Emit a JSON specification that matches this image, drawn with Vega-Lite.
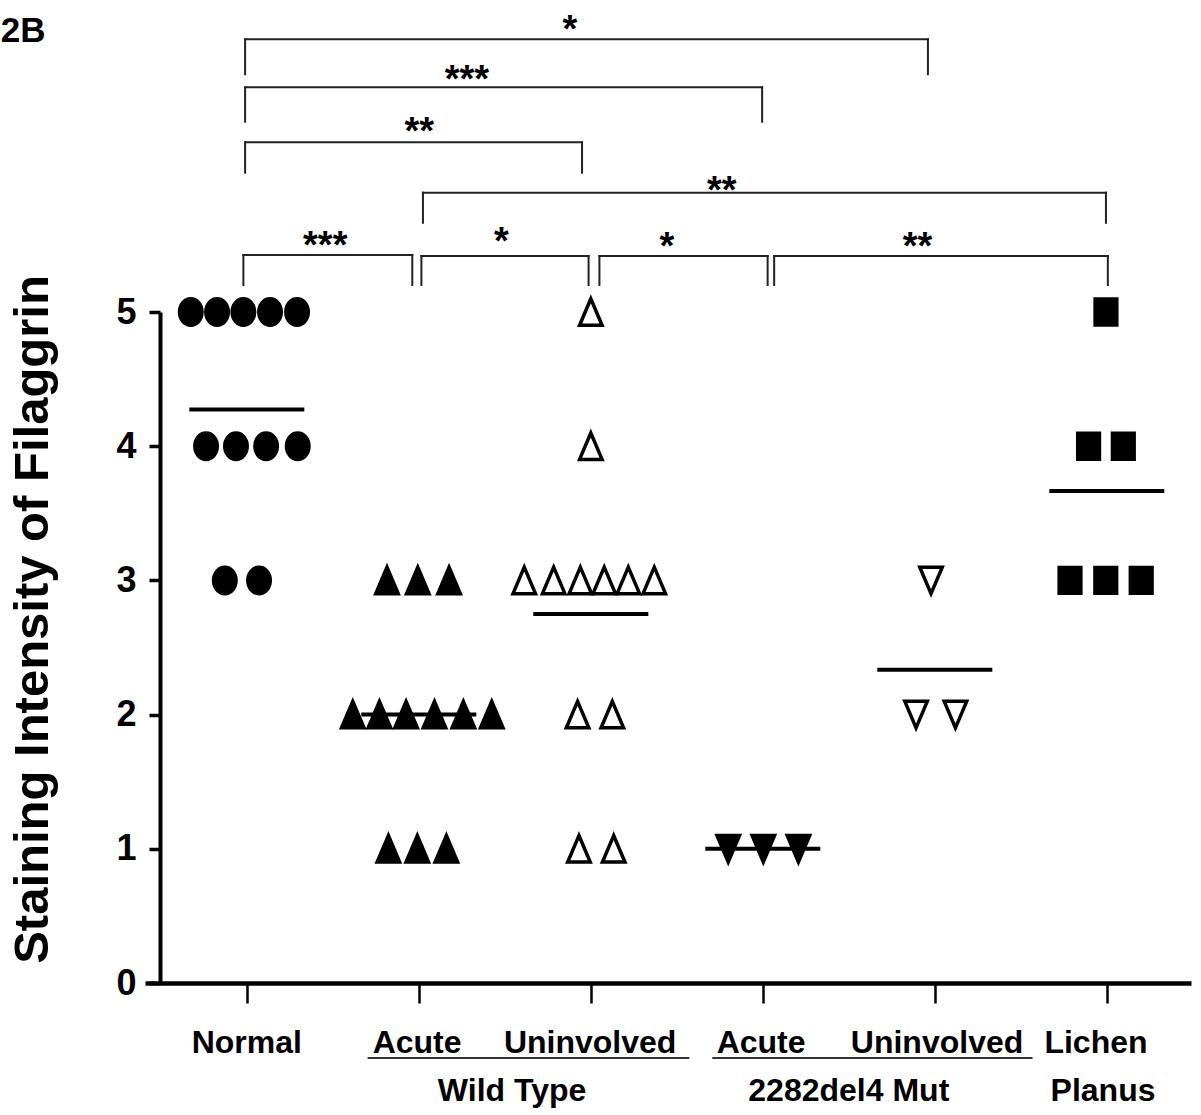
{
  "$schema": "https://vega.github.io/schema/vega-lite/v6.json",
  "width": 1046,
  "height": 671,
  "autosize": {"type": "none"},
  "padding": {"left": 145, "top": 312, "right": 10, "bottom": 132},
  "background": "white",
  "config": {"view": {"stroke": null}, "font": "Liberation Sans", "axis": {"grid": false}},
  "datasets": {
    "points": [
      {"grp": "Normal", "col": 1, "score": 5, "xpos": 0.674},
      {"grp": "Normal", "col": 1, "score": 5, "xpos": 0.827},
      {"grp": "Normal", "col": 1, "score": 5, "xpos": 0.98},
      {"grp": "Normal", "col": 1, "score": 5, "xpos": 1.135},
      {"grp": "Normal", "col": 1, "score": 5, "xpos": 1.292},
      {"grp": "Normal", "col": 1, "score": 4, "xpos": 0.763},
      {"grp": "Normal", "col": 1, "score": 4, "xpos": 0.937},
      {"grp": "Normal", "col": 1, "score": 4, "xpos": 1.112},
      {"grp": "Normal", "col": 1, "score": 4, "xpos": 1.296},
      {"grp": "Normal", "col": 1, "score": 3, "xpos": 0.872},
      {"grp": "Normal", "col": 1, "score": 3, "xpos": 1.071},
      {"grp": "WT Acute", "col": 2, "score": 3, "xpos": 1.815},
      {"grp": "WT Acute", "col": 2, "score": 3, "xpos": 1.994},
      {"grp": "WT Acute", "col": 2, "score": 3, "xpos": 2.176},
      {"grp": "WT Acute", "col": 2, "score": 2, "xpos": 1.616},
      {"grp": "WT Acute", "col": 2, "score": 2, "xpos": 1.771},
      {"grp": "WT Acute", "col": 2, "score": 2, "xpos": 1.926},
      {"grp": "WT Acute", "col": 2, "score": 2, "xpos": 2.091},
      {"grp": "WT Acute", "col": 2, "score": 2, "xpos": 2.259},
      {"grp": "WT Acute", "col": 2, "score": 2, "xpos": 2.424},
      {"grp": "WT Acute", "col": 2, "score": 1, "xpos": 1.823},
      {"grp": "WT Acute", "col": 2, "score": 1, "xpos": 1.991},
      {"grp": "WT Acute", "col": 2, "score": 1, "xpos": 2.16},
      {"grp": "WT Uninvolved", "col": 3, "score": 5, "xpos": 3.0},
      {"grp": "WT Uninvolved", "col": 3, "score": 4, "xpos": 3.0},
      {"grp": "WT Uninvolved", "col": 3, "score": 3, "xpos": 2.613},
      {"grp": "WT Uninvolved", "col": 3, "score": 3, "xpos": 2.784},
      {"grp": "WT Uninvolved", "col": 3, "score": 3, "xpos": 2.939},
      {"grp": "WT Uninvolved", "col": 3, "score": 3, "xpos": 3.078},
      {"grp": "WT Uninvolved", "col": 3, "score": 3, "xpos": 3.218},
      {"grp": "WT Uninvolved", "col": 3, "score": 3, "xpos": 3.369},
      {"grp": "WT Uninvolved", "col": 3, "score": 2, "xpos": 2.923},
      {"grp": "WT Uninvolved", "col": 3, "score": 2, "xpos": 3.125},
      {"grp": "WT Uninvolved", "col": 3, "score": 1, "xpos": 2.931},
      {"grp": "WT Uninvolved", "col": 3, "score": 1, "xpos": 3.133},
      {"grp": "Mut Acute", "col": 4, "score": 1, "xpos": 3.799},
      {"grp": "Mut Acute", "col": 4, "score": 1, "xpos": 4.003},
      {"grp": "Mut Acute", "col": 4, "score": 1, "xpos": 4.207},
      {"grp": "Mut Uninvolved", "col": 5, "score": 3, "xpos": 4.978},
      {"grp": "Mut Uninvolved", "col": 5, "score": 2, "xpos": 4.891},
      {"grp": "Mut Uninvolved", "col": 5, "score": 2, "xpos": 5.12},
      {"grp": "Lichen Planus", "col": 6, "score": 5, "xpos": 5.995},
      {"grp": "Lichen Planus", "col": 6, "score": 4, "xpos": 5.894},
      {"grp": "Lichen Planus", "col": 6, "score": 4, "xpos": 6.096},
      {"grp": "Lichen Planus", "col": 6, "score": 3, "xpos": 5.786},
      {"grp": "Lichen Planus", "col": 6, "score": 3, "xpos": 5.994},
      {"grp": "Lichen Planus", "col": 6, "score": 3, "xpos": 6.2}
    ],
    "brackets": [
      {"x1": 0.99, "x2": 4.96, "ytop": 7.032, "ybot": 6.772},
      {"x1": 0.99, "x2": 3.996, "ytop": 6.674, "ybot": 6.418},
      {"x1": 0.99, "x2": 2.949, "ytop": 6.264, "ybot": 6.038},
      {"x1": 2.024, "x2": 5.995, "ytop": 5.889, "ybot": 5.665},
      {"x1": 0.98, "x2": 1.962, "ytop": 5.425, "ybot": 5.201},
      {"x1": 2.015, "x2": 2.987, "ytop": 5.417, "ybot": 5.201},
      {"x1": 3.05, "x2": 4.028, "ytop": 5.417, "ybot": 5.201},
      {"x1": 4.066, "x2": 6.006, "ytop": 5.417, "ybot": 5.201}
    ],
    "stars": [
      {"t": "*", "x": 2.879, "y": 7.012},
      {"t": "***", "x": 2.28, "y": 6.639},
      {"t": "**", "x": 2.002, "y": 6.252},
      {"t": "**", "x": 3.761, "y": 5.812},
      {"t": "***", "x": 1.456, "y": 5.402},
      {"t": "*", "x": 2.48, "y": 5.432},
      {"t": "*", "x": 3.443, "y": 5.395},
      {"t": "**", "x": 4.9, "y": 5.395}
    ],
    "labels": [
      {"t": "Normal", "x": 1.0, "y": -0.522},
      {"t": "Acute", "x": 1.99, "y": -0.522},
      {"t": "Uninvolved", "x": 2.996, "y": -0.522},
      {"t": "Acute", "x": 3.99, "y": -0.522},
      {"t": "Uninvolved", "x": 5.013, "y": -0.522},
      {"t": "Lichen", "x": 5.937, "y": -0.522},
      {"t": "Wild Type", "x": 2.542, "y": -0.879},
      {"t": "2282del4 Mut", "x": 4.5, "y": -0.879},
      {"t": "Planus", "x": 5.978, "y": -0.879}
    ],
    "underlines": [
      {"x1": 1.702, "x2": 3.573, "y": -0.559},
      {"x1": 3.706, "x2": 5.568, "y": -0.559}
    ],
    "panel": [
      {"t": "2B", "x": -0.43, "y": 7.012}
    ]
  },
  "layer": [
    {
      "data": {"name": "brackets"},
      "mark": {"type": "rule", "strokeWidth": 2, "color": "#222", "strokeCap": "square"},
      "encoding": {
        "x": {"field": "x1", "type": "quantitative", "scale": {"domain": [0.408, 6.4895], "nice": false, "zero": false}},
        "x2": {"field": "x2"},
        "y": {"field": "ytop", "type": "quantitative", "scale": {"domain": [0, 5], "nice": false, "zero": false}}
      }
    },
    {
      "data": {"name": "brackets"},
      "mark": {"type": "rule", "strokeWidth": 2, "color": "#222", "strokeCap": "square"},
      "encoding": {
        "x": {"field": "x1", "type": "quantitative", "scale": {"domain": [0.408, 6.4895], "nice": false, "zero": false}},
        "y": {"field": "ytop", "type": "quantitative", "scale": {"domain": [0, 5], "nice": false, "zero": false}},
        "y2": {"field": "ybot"}
      }
    },
    {
      "data": {"name": "brackets"},
      "mark": {"type": "rule", "strokeWidth": 2, "color": "#222", "strokeCap": "square"},
      "encoding": {
        "x": {"field": "x2", "type": "quantitative", "scale": {"domain": [0.408, 6.4895], "nice": false, "zero": false}},
        "y": {"field": "ytop", "type": "quantitative", "scale": {"domain": [0, 5], "nice": false, "zero": false}},
        "y2": {"field": "ybot"}
      }
    },
    {
      "data": {"name": "stars"},
      "mark": {"type": "text", "fontSize": 38, "fontWeight": "bold", "align": "center", "baseline": "alphabetic", "color": "black", "font": "Liberation Sans"},
      "encoding": {
        "text": {"field": "t"},
        "x": {"field": "x", "type": "quantitative", "scale": {"domain": [0.408, 6.4895], "nice": false, "zero": false}},
        "y": {"field": "y", "type": "quantitative", "scale": {"domain": [0, 5], "nice": false, "zero": false}}
      }
    },
    {
      "data": {"name": "underlines"},
      "mark": {"type": "rule", "strokeWidth": 2, "color": "#333"},
      "encoding": {
        "x": {"field": "x1", "type": "quantitative", "scale": {"domain": [0.408, 6.4895], "nice": false, "zero": false}},
        "x2": {"field": "x2"},
        "y": {"field": "y", "type": "quantitative", "scale": {"domain": [0, 5], "nice": false, "zero": false}}
      }
    },
    {
      "data": {"name": "labels"},
      "mark": {"type": "text", "fontSize": 32, "fontWeight": "bold", "align": "center", "baseline": "alphabetic", "color": "black", "font": "Liberation Sans"},
      "encoding": {
        "text": {"field": "t"},
        "x": {"field": "x", "type": "quantitative", "scale": {"domain": [0.408, 6.4895], "nice": false, "zero": false}},
        "y": {"field": "y", "type": "quantitative", "scale": {"domain": [0, 5], "nice": false, "zero": false}}
      }
    },
    {
      "data": {"name": "panel"},
      "mark": {"type": "text", "fontSize": 35, "fontWeight": "bold", "align": "left", "baseline": "alphabetic", "color": "black", "font": "Liberation Sans"},
      "encoding": {
        "text": {"field": "t"},
        "x": {"field": "x", "type": "quantitative", "scale": {"domain": [0.408, 6.4895], "nice": false, "zero": false}},
        "y": {"field": "y", "type": "quantitative", "scale": {"domain": [0, 5], "nice": false, "zero": false}}
      }
    },
    {
      "data": {"name": "points"},
      "mark": {"type": "tick", "orient": "horizontal", "size": 115, "thickness": 4, "color": "black", "opacity": 1},
      "encoding": {
        "x": {"field": "col", "type": "quantitative", "scale": {"domain": [0.408, 6.4895], "nice": false, "zero": false}},
        "y": {"aggregate": "mean", "field": "score", "type": "quantitative", "scale": {"domain": [0, 5], "nice": false, "zero": false}}
      }
    },
    {
      "data": {"name": "points"},
      "mark": {"type": "point", "size": 700, "stroke": "black", "strokeWidth": 3.5, "opacity": 1},
      "encoding": {
        "x": {
          "field": "xpos", "type": "quantitative",
          "scale": {"domain": [0.408, 6.4895], "nice": false, "zero": false},
          "axis": {"title": null, "values": [1, 2, 3, 4, 5, 6], "labels": false, "domainColor": "black", "domainWidth": 4.5, "tickColor": "black", "tickWidth": 2.5, "tickSize": 20, "grid": false}
        },
        "y": {
          "field": "score", "type": "quantitative",
          "scale": {"domain": [0, 5], "nice": false, "zero": false},
          "axis": {"title": "Staining Intensity of Filaggrin", "values": [0, 1, 2, 3, 4, 5], "format": "d", "offset": -15, "domainColor": "black", "domainWidth": 4, "tickColor": "black", "tickWidth": 3.5, "tickSize": 11, "labelFont": "Liberation Sans", "labelFontSize": 36, "labelFontWeight": "bold", "labelColor": "black", "labelPadding": 13, "titleFont": "Liberation Sans", "titleFontSize": 49, "titleFontWeight": "bold", "titleColor": "black", "titlePadding": 58, "titleY": 307, "grid": false}
        },
        "shape": {
          "field": "grp", "type": "nominal", "legend": null,
          "scale": {
            "domain": ["Normal", "WT Acute", "WT Uninvolved", "Mut Acute", "Mut Uninvolved", "Lichen Planus"],
            "range": [
              "M-0.85,0A0.85,1 0 1,1 0.85,0A0.85,1 0 1,1 -0.85,0Z",
              "M0,-1L-0.85,1L0.85,1Z",
              "M0,-1L-0.85,1L0.85,1Z",
              "M0,1L-0.85,-1L0.85,-1Z",
              "M0,1L-0.85,-1L0.85,-1Z",
              "M-0.82,-0.98H0.82V0.98H-0.82Z"
            ]
          }
        },
        "fill": {
          "field": "grp", "type": "nominal", "legend": null,
          "scale": {
            "domain": ["Normal", "WT Acute", "WT Uninvolved", "Mut Acute", "Mut Uninvolved", "Lichen Planus"],
            "range": ["black", "black", "transparent", "black", "transparent", "black"]
          }
        }
      }
    }
  ]
}
